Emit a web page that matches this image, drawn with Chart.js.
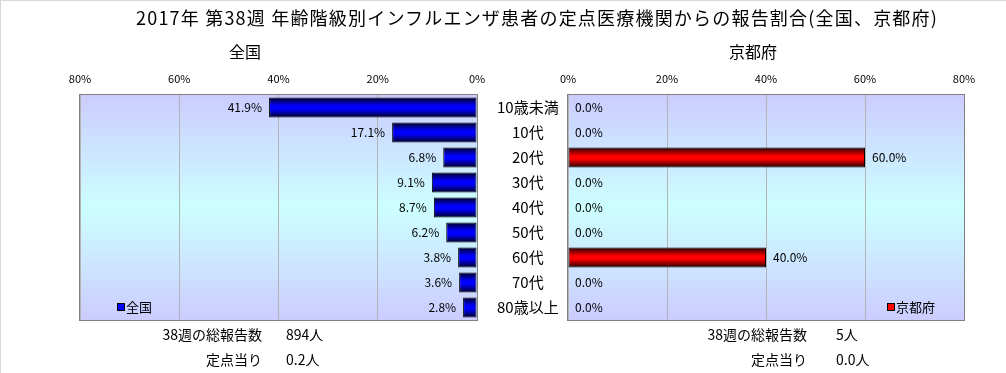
<!DOCTYPE html>
<html lang="ja">
<head>
<meta charset="utf-8">
<script src="https://cdn.jsdelivr.net/npm/chart.js@4.4.1/dist/chart.umd.min.js"></script>
<style>
  body { margin: 0; background: #fff; }
  #page {
    position: relative; width: 1006px; height: 373px; overflow: hidden;
    font-family: "Noto Sans CJK JP", sans-serif; color: #000;
    box-sizing: border-box; border-left: 1px solid #d8d8d8; border-top: 1px solid #d8d8d8;
  }
  canvas { position: absolute; left: 0; top: 0; }
  .txt { position: absolute; white-space: nowrap; line-height: 1; }
</style>
</head>
<body>
<div id="page">
  <canvas id="leftChart" width="1006" height="373"></canvas>
  <canvas id="rightChart" width="1006" height="373"></canvas>
  <div class="txt" style="left:135px; top:7px; font-size:18px; letter-spacing:1.2px;">2017年 第38週 年齢階級別インフルエンザ患者の定点医療機関からの報告割合(全国、京都府)</div>
  <div class="txt" style="left:228px; top:42px; font-size:16px;">全国</div>
  <div class="txt" style="left:728px; top:42px; font-size:16px;">京都府</div>
</div>
<script>
// 年齢階級
const categories = ['10歳未満', '10代', '20代', '30代', '40代', '50代', '60代', '70代', '80歳以上'];
// 報告割合（%）
const nationalValues = [41.9, 17.1, 6.8, 9.1, 8.7, 6.2, 3.8, 3.6, 2.8];
const kyotoValues    = [0.0, 0.0, 60.0, 0.0, 0.0, 0.0, 40.0, 0.0, 0.0];
// 横軸
const axisMax = 80;
const axisStep = 20;
// 下の集計欄
const footerLabels   = ['38週の総報告数', '定点当り'];
const nationalFooter = ['894人', '0.2人'];
const kyotoFooter    = ['5人', '0.0人'];

const FONT = '"Noto Sans CJK JP", sans-serif';

/** プロット領域の背景グラデーション */
const plotBackground = {
  id: 'plotBackground',
  beforeDraw(chart) {
    const { ctx, chartArea: a } = chart;
    const g = ctx.createLinearGradient(0, a.top, 0, a.bottom);
    g.addColorStop(0, '#ccccff');
    g.addColorStop(0.5, '#ccffff');
    g.addColorStop(1, '#ccccff');
    ctx.save();
    ctx.fillStyle = g;
    ctx.fillRect(a.left, a.top, a.right - a.left, a.bottom - a.top);
    ctx.restore();
  },
  beforeDatasetsDraw(chart) {
    const { ctx, chartArea: a } = chart;
    ctx.save();
    ctx.strokeStyle = '#808080';
    ctx.lineWidth = 1;
    ctx.strokeRect(a.left - 0.5, a.top - 0.5, a.right - a.left + 1, a.bottom - a.top + 1);
    ctx.restore();
  }
};

/** 棒の端に値ラベルと凡例を描く */
const valueLabels = {
  id: 'valueLabels',
  afterDatasetsDraw(chart, args, opts) {
    const { ctx, chartArea: a } = chart;
    const ds = chart.data.datasets[0];
    const meta = chart.getDatasetMeta(0);
    ctx.save();
    ctx.font = '12px ' + FONT;
    ctx.fillStyle = '#000';
    ctx.textBaseline = 'middle';
    meta.data.forEach((bar, i) => {
      const text = ds.data[i].toFixed(1) + '%';
      if (opts.side === 'left') {
        ctx.textAlign = 'right';
        ctx.fillText(text, Math.min(bar.x, bar.base) - 7, bar.y);
      } else {
        ctx.textAlign = 'left';
        ctx.fillText(text, Math.max(bar.x, bar.base) + 7, bar.y);
      }
    });

    // 凡例
    const bx = opts.side === 'left' ? a.left + 38 : a.right - 76;
    const by = a.bottom - 13;
    ctx.fillStyle = opts.color;
    ctx.fillRect(bx, by - 3, 6, 6);
    ctx.strokeStyle = '#000';
    ctx.strokeRect(bx - 0.5, by - 3.5, 7, 7);
    ctx.fillStyle = '#000';
    ctx.textAlign = 'left';
    ctx.font = '13px ' + FONT;
    ctx.fillText(ds.label, bx + 8, by);
    ctx.restore();
  }
};

function barGradient(dark, bright) {
  return (context) => {
    const chart = context.chart;
    const y = chart.scales.y;
    if (!y || context.dataIndex === undefined) return bright;
    const c = y.getPixelForValue(context.dataIndex);
    const h = (y.bottom - y.top) / categories.length * 0.8;
    if (!Number.isFinite(c) || !Number.isFinite(h) || h <= 0) return bright;
    const g = chart.ctx.createLinearGradient(0, c - h / 2, 0, c + h / 2);
    g.addColorStop(0, dark);
    g.addColorStop(0.42, bright);
    g.addColorStop(0.58, bright);
    g.addColorStop(1, dark);
    return g;
  };
}

function makeChart(canvasId, { label, values, dark, bright, side, padding }) {
  const ctx = document.getElementById(canvasId).getContext('2d');
  return new Chart(ctx, {
    type: 'bar',
    data: {
      labels: categories,
      datasets: [{
        label,
        data: values,
        backgroundColor: barGradient(dark, bright),
        borderColor: '#000',
        borderWidth: (c) => (c.raw === 0 ? 0 : 1),
        borderSkipped: false,
        barPercentage: 0.8,
        categoryPercentage: 1.0
      }]
    },
    options: {
      responsive: false,
      animation: false,
      indexAxis: 'y',
      layout: { padding },
      plugins: {
        legend: { display: false },
        tooltip: { enabled: false },
        valueLabels: { side, color: bright }
      },
      scales: {
        x: {
          type: 'linear',
          position: 'top',
          min: 0,
          max: axisMax,
          reverse: side === 'left',
          ticks: {
            stepSize: axisStep,
            callback: (v) => v + '%',
            font: { family: FONT, size: 11 },
            color: '#000',
            padding: 10
          },
          grid: { color: '#b4b4b4', drawTicks: false },
          border: { display: false },
          afterFit: (s) => { s.height = 20; }
        },
        y: {
          display: side === 'left',
          position: 'right',
          grid: { display: false },
          border: { display: false },
          ticks: {
            font: { family: FONT, size: 15 },
            color: '#000',
            crossAlign: 'center',
            padding: 12,
            autoSkip: false
          },
          afterFit: (s) => { s.width = side === 'left' ? 91 : 0; }
        }
      }
    },
    plugins: [plotBackground, valueLabels]
  });
}

// 集計欄
const page = document.getElementById('page');
function addText(text, style) {
  const d = document.createElement('div');
  d.className = 'txt';
  d.textContent = text;
  Object.assign(d.style, style);
  page.appendChild(d);
}
footerLabels.forEach((lbl, i) => {
  const top = (326 + i * 25) + 'px';
  addText(lbl, { right: (1006 - 262) + 'px', top, fontSize: '14px' });
  addText(nationalFooter[i], { left: '285px', top, fontSize: '14px' });
  addText(lbl, { right: (1006 - 807) + 'px', top, fontSize: '14px' });
  addText(kyotoFooter[i], { left: '835px', top, fontSize: '14px' });
});

makeChart('leftChart', {
  label: '全国', values: nationalValues, dark: '#000022', bright: '#0000ff', side: 'left',
  padding: { left: 79, right: 439, top: 74, bottom: 54 }
});
makeChart('rightChart', {
  label: '京都府', values: kyotoValues, dark: '#220000', bright: '#ff0000', side: 'right',
  padding: { left: 567, right: 43, top: 74, bottom: 54 }
});
</script>
</body>
</html>
